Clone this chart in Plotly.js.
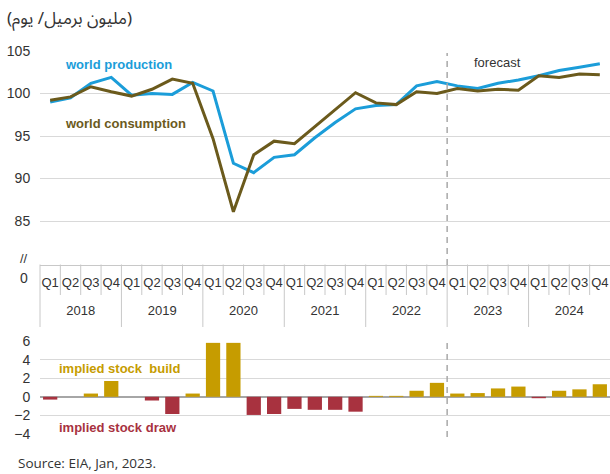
<!DOCTYPE html>
<html>
<head>
<meta charset="utf-8">
<script src="https://cdn.plot.ly/plotly-3.0.1.min.js"></script>
<style>html,body{margin:0;padding:0;background:#fff;}#chart{width:610px;height:474px;}</style>
</head>
<body>
<div id="chart"></div>
<script>
// ---- data ----
var years = ['2018','2019','2020','2021','2022','2023','2024'];
var quarters = ['Q1','Q2','Q3','Q4'];
var production = [99.0, 99.5, 101.2, 101.9, 99.8, 100.0, 99.9, 101.3,
                  100.3, 91.8, 90.7, 92.5, 92.8, 94.8, 96.6, 98.2,
                  98.6, 98.7, 100.9, 101.4, 100.9, 100.6, 101.2, 101.6,
                  102.1, 102.7, 103.1, 103.5];
var consumption = [99.2, 99.6, 100.8, 100.2, 99.7, 100.5, 101.7, 101.2,
                   94.7, 86.1, 92.8, 94.4, 94.1, 96.1, 98.0, 100.1,
                   98.9, 98.7, 100.2, 100.0, 100.6, 100.3, 100.5, 100.4,
                   102.1, 101.9, 102.3, 102.2];
var stockChange = [-0.3, 0, 0.35, 1.7, 0, -0.4, -1.85, 0.35,
                   5.8, 5.8, -1.95, -1.85, -1.3, -1.4, -1.4, -1.6,
                   0.1, 0.1, 0.65, 1.5, 0.35, 0.4, 0.9, 1.1,
                   -0.15, 0.65, 0.8, 1.35];
var forecastStartIndex = 20;

// ---- build multicategory x ----
var xYears = [], xQuarters = [];
years.forEach(function(y){ quarters.forEach(function(q){ xYears.push('<br>' + y); xQuarters.push(q); }); });
var X = [xYears, xQuarters];
var N = xYears.length;

var colProd = '#1b9dd9', colCons = '#6b5a1c', colBuild = '#c69c00', colDraw = '#a8323f';
var barColors = stockChange.map(function(v){ return v < 0 ? colDraw : colBuild; });

var traces = [
  {x: X, y: production, type: 'scatter', mode: 'lines', line: {color: colProd, width: 3}, xaxis: 'x', yaxis: 'y', hoverinfo: 'skip'},
  {x: X, y: consumption, type: 'scatter', mode: 'lines', line: {color: colCons, width: 3}, xaxis: 'x', yaxis: 'y', hoverinfo: 'skip'},
  {x: X, y: stockChange, type: 'bar', marker: {color: barColors}, xaxis: 'x2', yaxis: 'y2', hoverinfo: 'skip'}
];

// plot area pixel geometry: top 51, bottom 434, left 40, right 610
var T = 51, B = 434, H = B - T, L = 40, W = 570;
function py(p){ return (B - p) / H; }
function px(p){ return (p - L) / W; }

var shapes = [];
// separators below the x axis
for (var i = 0; i < N; i++) {
  var isYear = (i % 4 === 0);
  shapes.push({type: 'line', xref: 'paper', yref: 'paper', x0: i / N, x1: i / N,
               y0: py(264.5), y1: py(isYear ? 327 : 295), line: {color: '#c8c8c8', width: 1}});
}
// forecast dashed lines
var fx = forecastStartIndex / N;
shapes.push({type: 'line', xref: 'paper', yref: 'paper', x0: fx, x1: fx, y0: py(265), y1: py(53),
             line: {color: '#a8a8a8', width: 1.5, dash: '6px,5px'}});
shapes.push({type: 'line', xref: 'paper', yref: 'paper', x0: fx, x1: fx, y0: py(437), y1: py(338),
             line: {color: '#a8a8a8', width: 1.5, dash: '6px,5px'}});

var F = 'Liberation Sans, Arial, sans-serif';
var annotations = [
  {text: 'world production', x: px(63), y: py(65), xanchor: 'left', yanchor: 'middle', font: {family: F, size: 13, color: colProd, weight: 'bold'}},
  {text: 'world consumption', x: px(63), y: py(124), xanchor: 'left', yanchor: 'middle', font: {family: F, size: 13, color: colCons, weight: 'bold'}},
  {text: 'forecast', x: px(497), y: py(62), xanchor: 'center', yanchor: 'middle', font: {family: F, size: 13, color: '#333'}},
  {text: 'implied stock\u00a0 build', x: px(57), y: py(368), xanchor: 'left', yanchor: 'middle', font: {family: F, size: 13, color: colBuild, weight: 'bold'}},
  {text: 'implied stock draw', x: px(57), y: py(427), xanchor: 'left', yanchor: 'middle', font: {family: F, size: 13, color: colDraw, weight: 'bold'}},
  {text: '//', x: px(24), y: py(258), xanchor: 'center', yanchor: 'middle', font: {family: F, size: 13, color: '#333'}},
  {text: '0', x: px(24), y: py(278), xanchor: 'center', yanchor: 'middle', font: {family: F, size: 14, color: '#333'}},
  {text: 'Source: EIA, Jan, 2023.', x: px(16), y: py(463), xanchor: 'left', yanchor: 'middle', font: {family: 'Open Sans, sans-serif', size: 13.5, color: '#333'}},
  {text: '(مليون برميل/ يوم)', x: px(5), y: py(19), xanchor: 'left', yanchor: 'middle', font: {family: 'Noto Sans Arabic, DejaVu Sans, Noto Sans, sans-serif', size: 17, color: '#333'}}
];
annotations.forEach(function(a){ a.xref = 'paper'; a.yref = 'paper'; a.showarrow = false; });

var layout = {
  width: 610, height: 474,
  margin: {l: L, r: 0, t: T, b: 474 - B, pad: 0},
  paper_bgcolor: '#fff', plot_bgcolor: '#fff',
  showlegend: false,
  bargap: 0.3,
  font: {family: F, color: '#333'},
  xaxis: {type: 'multicategory', domain: [0, 1], anchor: 'y', showgrid: false, zeroline: false,
          showline: true, linecolor: '#c8c8c8', linewidth: 1, ticks: '', showdividers: false,
          ticklabelstandoff: 6,
          tickfont: {family: F, size: 13, color: '#333'}, range: [-0.5, N - 0.5]},
  yaxis: {domain: [py(264.5), 1], anchor: 'x', range: [79.9, 105], tickvals: [85, 90, 95, 100, 105],
          showgrid: true, gridcolor: '#d9d9d9', gridwidth: 1, zeroline: false, showline: false,
          ticks: 'outside', ticklen: 6, tickcolor: 'rgba(0,0,0,0)', tickfont: {family: F, size: 14, color: '#333'}},
  xaxis2: {type: 'multicategory', domain: [0, 1], anchor: 'y2', showgrid: false, zeroline: false,
           showline: false, ticks: '', showticklabels: false, showdividers: false, range: [-0.5, N - 0.5]},
  yaxis2: {domain: [0, py(341)], anchor: 'x2', range: [-4, 6], tickvals: [-4, -2, 0, 2, 4, 6],
           showgrid: true, gridcolor: '#d9d9d9', gridwidth: 1, zeroline: true, zerolinecolor: '#a6a6a6', zerolinewidth: 1.5,
           showline: false, ticks: 'outside', ticklen: 6, tickcolor: 'rgba(0,0,0,0)',
           tickfont: {family: F, size: 14, color: '#333'}},
  shapes: shapes,
  annotations: annotations
};

Plotly.newPlot('chart', traces, layout, {displayModeBar: false, staticPlot: true});
</script>
</body>
</html>
